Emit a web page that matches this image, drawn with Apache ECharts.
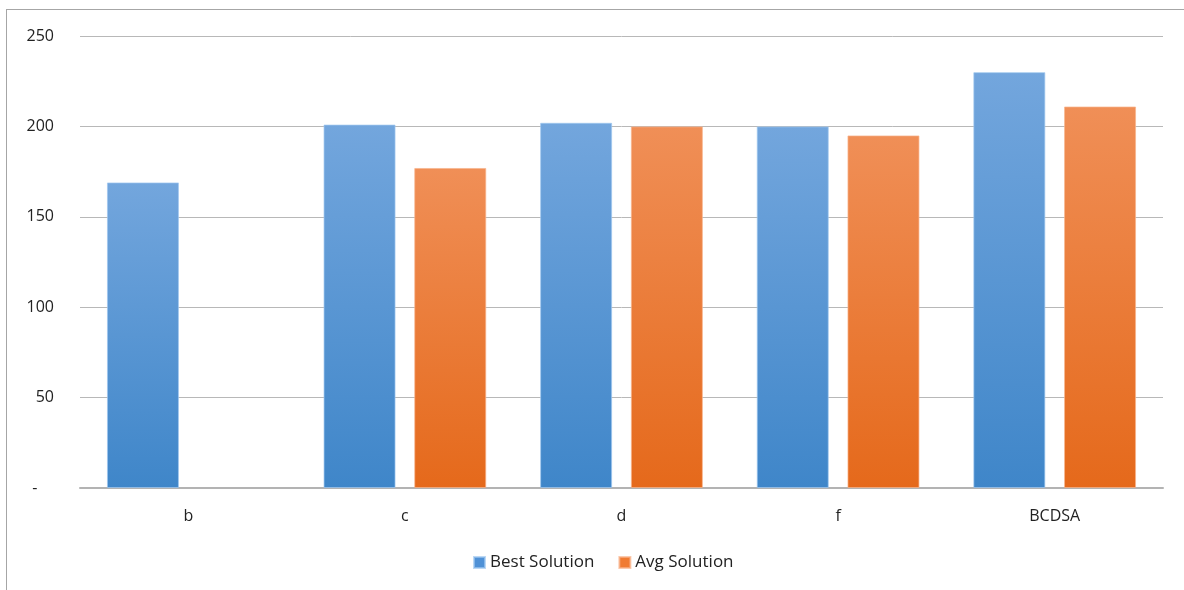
<!DOCTYPE html>
<html>
<head>
<meta charset="utf-8">
<style>
  html, body { margin: 0; padding: 0; background: #fff; }
  #frame { position: absolute; left: 6px; top: 9px; width: 1178px; height: 581px;
           border-left: 1px solid #a6a6a6; border-top: 1px solid #a6a6a6; box-sizing: border-box; }
  #chart { position: absolute; left: 0; top: 0; width: 1184px; height: 590px; }
</style>
<script src="https://cdn.jsdelivr.net/npm/echarts@6/dist/echarts.min.js"></script>
</head>
<body>
<div id="frame"></div>
<div id="chart"></div>
<script>
// Categories and series values
const categories = ['b', 'c', 'd', 'f', 'BCDSA'];
const bestSolution = [169, 201, 202, 200, 230];
const avgSolution = [null, 177, 200, 195, 211];
const yTicks = [0, 50, 100, 150, 200, 250];

const font = '"Open Sans", "Noto Sans", sans-serif';

function vGrad(top, bottom) {
  return new echarts.graphic.LinearGradient(0, 0, 0, 1, [
    { offset: 0, color: top },
    { offset: 1, color: bottom }
  ]);
}

const chart = echarts.init(document.getElementById('chart'), null, { renderer: 'canvas' });
chart.setOption({
  animation: false,
  backgroundColor: 'transparent',
  grid: { left: 80, right: 21, top: 36, bottom: 102 },
  legend: {
    bottom: 14,
    left: 468,
    itemWidth: 11,
    itemHeight: 11,
    itemGap: 24,
    icon: 'rect',
    textStyle: { fontFamily: font, fontSize: 17, color: '#222' },
    data: [
      { name: 'Best Solution', itemStyle: { color: '#4f91d6' } },
      { name: 'Avg Solution', itemStyle: { color: '#f07b32' } }
    ]
  },
  xAxis: {
    type: 'category',
    data: categories,
    axisLine: { lineStyle: { color: '#b3b3b3', width: 2 } },
    axisTick: { show: false },
    axisLabel: { fontFamily: font, fontSize: 16, color: '#222', margin: 20 }
  },
  yAxis: {
    type: 'value',
    min: yTicks[0],
    max: yTicks[yTicks.length - 1],
    interval: 50,
    axisLine: { show: false },
    axisTick: { show: false },
    splitLine: { lineStyle: { color: '#b8b8b8', width: 1 } },
    axisLabel: {
      fontFamily: font, fontSize: 16, color: '#222', margin: 26,
      formatter: v => (v === 0 ? '-    ' : String(v))
    }
  },
  series: [
    {
      name: 'Best Solution',
      type: 'bar',
      data: bestSolution,
      barWidth: 72,
      barGap: '26%',
      itemStyle: {
        color: vGrad('#73a6dd', '#3f86c9'),
        borderColor: 'rgba(160,200,240,0.7)',
        borderWidth: 1
      }
    },
    {
      name: 'Avg Solution',
      type: 'bar',
      data: avgSolution,
      barWidth: 72,
      barGap: '26%',
      itemStyle: {
        color: vGrad('#f08f57', '#e5691b'),
        borderColor: 'rgba(248,180,140,0.7)',
        borderWidth: 1
      }
    }
  ]
});
</script>
</body>
</html>
